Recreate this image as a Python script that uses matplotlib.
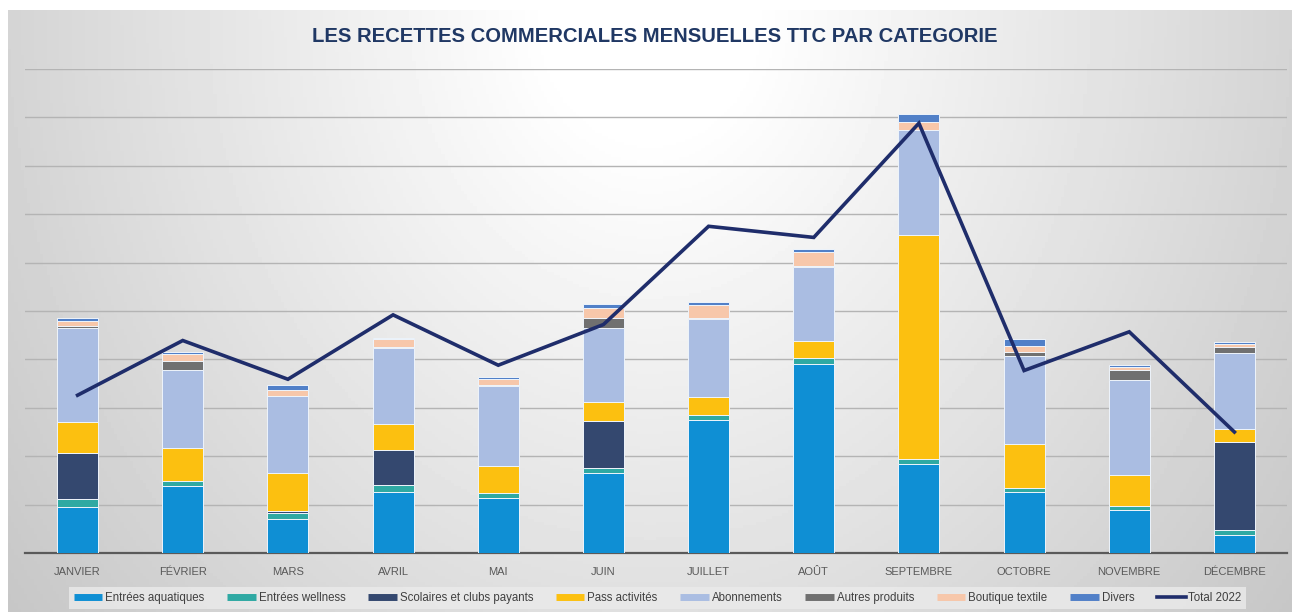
import numpy as np
import matplotlib.pyplot as plt
from matplotlib.lines import Line2D

plt.rcParams['font.family'] = ['Liberation Sans Narrow', 'Liberation Sans', 'DejaVu Sans']

# recettes mensuelles TTC (k€)
mois = ['JANVIER', 'FÉVRIER', 'MARS', 'AVRIL', 'MAI', 'JUIN', 'JUILLET',
        'AOÛT', 'SEPTEMBRE', 'OCTOBRE', 'NOVEMBRE', 'DÉCEMBRE']

entrees_aquatiques = [19.0, 27.6, 14.0, 25.2, 22.6, 33.0, 55.0, 78.2, 36.8, 25.2, 17.6, 7.6]
entrees_wellness = [3.4, 2.0, 2.4, 3.0, 2.0, 2.0, 2.0, 2.4, 2.2, 1.6, 1.8, 2.0]
scolaires_clubs = [18.8, 0.0, 1.0, 14.2, 0.0, 19.6, 0.0, 0.0, 0.0, 0.0, 0.0, 36.2]
pass_activites = [13.0, 13.8, 15.8, 11.0, 11.4, 8.0, 7.6, 7.2, 92.2, 18.2, 12.8, 5.6]
abonnements = [38.8, 32.4, 31.6, 31.2, 33.2, 30.2, 32.0, 30.4, 43.6, 36.6, 39.2, 31.4]
autres_produits = [1.0, 3.4, 0.2, 0.4, 0.2, 4.2, 0.6, 0.6, 0.2, 1.4, 4.2, 2.4]
boutique_textile = [2.0, 3.0, 2.2, 3.4, 2.4, 4.4, 5.2, 5.6, 3.2, 2.4, 1.4, 1.0]
divers = [1.0, 0.8, 2.2, 0.6, 1.0, 1.4, 1.4, 1.2, 3.0, 3.0, 0.8, 1.0]

total_2022 = [65.2, 87.8, 71.8, 98.4, 77.6, 94.4, 135.0, 130.4, 177.6, 75.4, 91.4, 50.0]

categories = ['Entrées aquatiques', 'Entrées wellness', 'Scolaires et clubs payants',
              'Pass activités', 'Abonnements', 'Autres produits', 'Boutique textile', 'Divers']
series = [entrees_aquatiques, entrees_wellness, scolaires_clubs, pass_activites,
          abonnements, autres_produits, boutique_textile, divers]
couleurs = ['#0f8fd4', '#2fa9a3', '#34486f', '#fcc010',
            '#aabde2', '#707070', '#f7c7aa', '#5180c8']
couleur_total = '#1f2d6b'

fig = plt.figure(figsize=(12.92, 6.12), dpi=100)

# fond degrade gris / blanc
bg = fig.add_axes([8/1292, 0, 1 - 8/1292, 1 - 10/612], zorder=-10)
gx, gy = np.meshgrid(np.linspace(-1, 1, 400), np.linspace(0, 1, 200))
grad = 1 - 0.21 * np.clip(np.sqrt(0.9 * gx**2 + 0.55 * gy**2) - 0.15, 0, None)
bg.imshow(grad, cmap='gray', vmin=0, vmax=1, aspect='auto', extent=[0, 1, 0, 1], origin='upper')
bg.set_axis_off()

ax = fig.add_axes([25/1292, 1 - 553/612, (1287 - 25)/1292, (553 - 69)/612])
ax.patch.set_alpha(0)

x = np.arange(len(mois))
bottom = np.zeros(len(mois))
for nom, vals, c in zip(categories, series, couleurs):
    ax.bar(x, vals, width=0.39, bottom=bottom, color=c, label=nom,
           edgecolor='#eef4fb', linewidth=0.7, zorder=3)
    bottom += np.array(vals)

ax.plot(x, total_2022, color=couleur_total, linewidth=2.6, zorder=4,
        solid_joinstyle='miter', label='Total 2022')

ax.set_xlim(-0.5, 11.5)
ax.set_ylim(0, 200)
ax.set_yticks(np.arange(20, 201, 20))
ax.yaxis.grid(True, color='#b4b4b4', linewidth=1.0, zorder=0)
ax.set_yticklabels([])
ax.tick_params(axis='y', length=0)
ax.set_xticks(x)
ax.set_xticklabels(mois, fontsize=8, color='#595959')
ax.tick_params(axis='x', length=0, pad=10)
for s in ['top', 'right', 'left']:
    ax.spines[s].set_visible(False)
ax.spines['bottom'].set_color('#5a5a5a')
ax.spines['bottom'].set_linewidth(1.6)

fig.text(0.507, 0.94, 'LES RECETTES COMMERCIALES MENSUELLES TTC PAR CATEGORIE',
         ha='center', va='center', fontsize=14.6, fontweight='bold', color='#203864')

handles = [Line2D([], [], color=c, linewidth=5, solid_capstyle='butt') for c in couleurs]
handles.append(Line2D([], [], color=couleur_total, linewidth=2.6))
labels = categories + ['Total 2022']
leg = fig.legend(handles, labels, loc='center', bbox_to_anchor=(0.509, 1 - 598/612),
                 ncol=9, frameon=True, fontsize=8.3, handlelength=2.5, handletextpad=0.25,
                 columnspacing=1.95, borderpad=0.4, borderaxespad=0, fancybox=False)
leg.get_frame().set_facecolor('#ebebeb')
leg.get_frame().set_edgecolor('none')
for t in leg.get_texts():
    t.set_color('#404040')

plt.savefig('out.png', dpi=100)
